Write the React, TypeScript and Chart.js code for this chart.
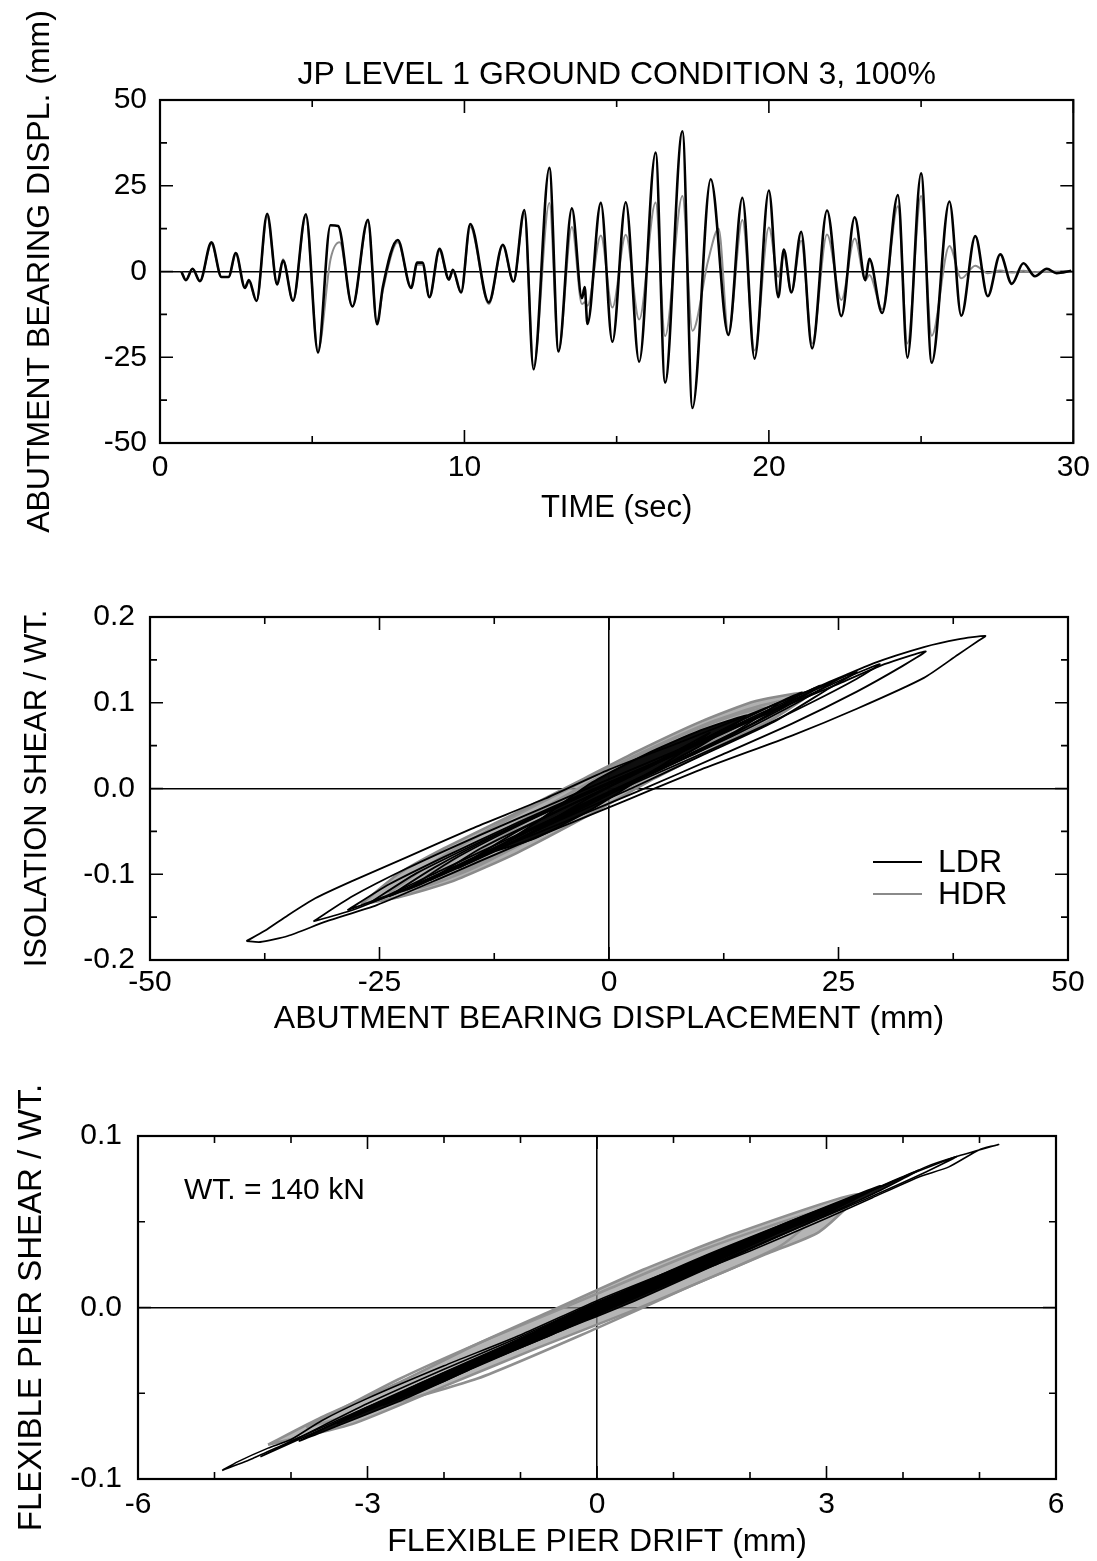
import React, { useEffect, useRef } from 'react';
import { Chart, registerables } from 'chart.js';

Chart.register(...registerables);

const FONT_FAMILY = '"Liberation Sans", Arial, Helvetica, sans-serif';

// ---------------- Panel 1 : time history ----------------
const panel1Title = 'JP LEVEL 1 GROUND CONDITION 3, 100%';
const timeLDR = [
  0.7, 0.85, 1.07, 1.31, 1.69, 2.02, 2.25, 2.49, 2.79, 2.92,
  3.17, 3.52, 3.85, 4.04, 4.37, 4.79, 5.19, 5.6, 5.85, 6.32,
  6.83, 7.13, 7.32, 7.81, 8.25, 8.45, 8.62, 8.85, 9.18, 9.49,
  9.62, 9.89, 10.19, 10.8, 11.26, 11.61, 11.97, 12.27, 12.79, 13.09,
  13.53, 13.86, 13.95, 14.04, 14.48, 14.86, 15.3, 15.74, 16.28, 16.59,
  17.16, 17.49, 18.09, 18.67, 19.13, 19.53, 20.0, 20.31, 20.49, 20.74,
  21.06, 21.42, 21.91, 22.38, 22.82, 23.17, 23.3, 23.72, 24.24, 24.55,
  25.0, 25.35, 25.93, 26.32, 26.78, 27.19, 27.6, 27.98, 28.36, 28.74,
  29.13, 29.45, 29.93,
];
const dispLDR = [
  0, -2.5, 0.8, -2.8, 8.5, -1.6, -1.6, 5.4, -4.8, -2.5,
  -8.6, 16.8, -3.8, 3.2, -8.5, 16.7, -23.6, 13.5, 13.3, -10.2,
  15.1, -15.4, -4.5, 9.2, -4.8, 2.6, 2.6, -7.5, 6.6, -2.3,
  0.5, -6.1, 13.8, -9.0, 7.8, -2.9, 17.9, -28.5, 30.2, -23.3,
  18.4, -7.8, -4.5, -15.3, 20.0, -20.5, 20.2, -26.3, 34.7, -32.4,
  40.9, -39.8, 26.9, -18.5, 21.5, -25.4, 23.6, -7.5, 6.4, -6.1,
  11.6, -22.4, 17.8, -13.0, 15.8, -2.5, 3.7, -12.1, 22.3, -25.1,
  28.6, -26.6, 20.4, -12.9, 10.3, -7.2, 5.0, -3.6, 2.4, -1.4,
  0.8, -0.5, 0.2,
];
const timeHDR = [
  0.7, 0.85, 1.07, 1.31, 1.69, 2.02, 2.25, 2.49, 2.79, 2.92,
  3.17, 3.52, 3.85, 4.04, 4.37, 4.79, 5.19, 5.6, 5.9, 6.32,
  6.83, 7.13, 7.32, 7.81, 8.25, 8.45, 8.62, 8.85, 9.18, 9.49,
  9.62, 9.89, 10.19, 10.8, 11.26, 11.61, 11.97, 12.27, 12.79, 13.09,
  13.53, 13.86, 13.95, 14.04, 14.48, 14.86, 15.3, 15.74, 16.28, 16.59,
  17.16, 17.49, 18.0, 18.35, 18.67, 19.13, 19.53, 20.0, 20.31, 20.49, 20.74,
  21.06, 21.42, 21.91, 22.38, 22.82, 23.17, 23.3, 23.72, 24.24, 24.55,
  25.0, 25.35, 25.93, 26.32, 26.78, 27.19, 27.6, 27.98, 28.36, 28.74,
  29.13, 29.45, 29.93,
];
const dispHDR = [
  0, -2.5, 0.8, -2.8, 8.0, -1.6, -1.6, 5.0, -4.5, -3.0,
  -8.6, 16.0, -3.8, 3.6, -8.5, 16.0, -23.0, 3.5, 8.5, -10.2,
  14.5, -15.0, -5.5, 8.5, -4.5, 2.0, 2.0, -7.5, 6.0, -2.5,
  0.0, -6.1, 13.0, -9.5, 7.5, -3.0, 17.0, -27.5, 20.0, -23.0,
  13.0, -9.5, -9.0, -10.0, 10.5, -10.5, 10.7, -14.0, 20.1, -18.8,
  22.0, -17.3, 3.0, 12.5, -18.0, 15.0, -23.0, 12.8, -1.5, 5.0, -6.0,
  9.0, -21.0, 10.8, -8.3, 9.6, -2.6, -1.0, -11.0, 19.0, -21.0,
  22.0, -18.7, 7.4, -2.0, 1.7, -0.5, 0.3, -0.3, 0.2, -0.2,
  0, 0, 0,
];
const p1XLabels = [0, 10, 20, 30];
const p1YLabels = [-50, -25, 0, 25, 50];

// ---------------- Panel 2 : isolation shear vs displacement ----------------
const seriesNames = ['LDR', 'HDR'];
const ldrLoops2: number[][][] = [
  [[-39.5, -0.178], [-37.5, -0.166], [-35, -0.148], [-32, -0.128], [-28, -0.108], [-22, -0.08], [-15, -0.047], [-7, -0.012], [0, 0.022], [8, 0.055], [15, 0.085], [22, 0.115], [28.8, 0.146], [34.3, 0.165], [38, 0.174], [41, 0.178],
   [40.2, 0.172], [38, 0.156], [34.3, 0.129], [27, 0.093], [20, 0.062], [10, 0.022], [0, -0.022], [-10, -0.066], [-18, -0.103], [-25.3, -0.136], [-30.8, -0.155], [-35, -0.172], [-38, -0.179], [-39.5, -0.178]],
  [[-32.2, -0.155], [-28, -0.126], [-22, -0.093], [-14, -0.054], [-6, -0.017], [2, 0.02], [10, 0.056], [18, 0.091], [25, 0.122], [30, 0.145], [34.5, 0.16],
   [32, 0.143], [27, 0.113], [20, 0.076], [12, 0.038], [3, -0.004], [-6, -0.044], [-15, -0.083], [-22, -0.116], [-28, -0.142], [-32.2, -0.155]],
  [[-28.5, -0.142], [-24, -0.112], [-18, -0.08], [-10, -0.04], [-2, -0.002], [6, 0.035], [14, 0.072], [21, 0.105], [26, 0.13], [29.5, 0.145],
   [27, 0.128], [22, 0.1], [15, 0.064], [7, 0.026], [-2, -0.016], [-10, -0.054], [-18, -0.094], [-24, -0.124], [-28.5, -0.142]],
  [[-26, -0.133], [-21, -0.099], [-14, -0.062], [-6, -0.022], [2, 0.016], [10, 0.054], [17, 0.088], [23, 0.118], [27, 0.136],
   [24, 0.117], [18, 0.078], [10, 0.038], [2, -0.002], [-6, -0.04], [-14, -0.079], [-21, -0.114], [-26, -0.133]],
  [[-24, -0.126], [-19, -0.092], [-12, -0.053], [-4, -0.014], [4, 0.024], [12, 0.062], [19, 0.097], [25, 0.128],
   [21, 0.103], [14, 0.064], [6, 0.024], [-2, -0.016], [-10, -0.056], [-17, -0.092], [-21, -0.112], [-24, -0.126]],
  [[-22, -0.118], [-17, -0.083], [-10, -0.044], [-2, -0.004], [6, 0.035], [13, 0.07], [19, 0.1], [23, 0.12],
   [19, 0.094], [12, 0.056], [4, 0.016], [-4, -0.024], [-11, -0.062], [-17, -0.094], [-22, -0.118]],
  [[-19.5, -0.107], [-14, -0.07], [-6, -0.028], [2, 0.012], [9, 0.05], [16, 0.088], [21, 0.112],
   [17, 0.084], [10, 0.044], [2, 0.004], [-6, -0.038], [-13, -0.076], [-19.5, -0.107]],
  [[-16.5, -0.093], [-10, -0.05], [-2, -0.008], [6, 0.034], [13, 0.072], [18.5, 0.1],
   [14, 0.068], [6, 0.026], [-2, -0.016], [-10, -0.06], [-16.5, -0.093]],
  [[-13, -0.075], [-8, -0.04], [-2, 0.006], [4, 0.04], [10, 0.068], [15, 0.085],
   [10, 0.05], [4, 0.015], [-2, -0.025], [-8, -0.058], [-13, -0.075]],
  [[-9, -0.055], [-2, -0.01], [5, 0.03], [11, 0.065], [5, 0.022], [-2, -0.018], [-9, -0.055]],
];
const hdrLoops2: number[][][] = [
  [[-27, -0.135], [-23, -0.1], [-18, -0.07], [-10, -0.028], [-3, 0.01], [3, 0.043], [10, 0.078], [16, 0.102], [22, 0.112],
   [18, 0.082], [12, 0.05], [5, 0.012], [-2, -0.03], [-10, -0.075], [-17, -0.108], [-23, -0.127], [-27, -0.135]],
  [[-24, -0.122], [-19, -0.085], [-12, -0.042], [-4, 0.002], [4, 0.044], [11, 0.077], [16, 0.095], [20, 0.104],
   [15, 0.072], [8, 0.036], [0, -0.01], [-8, -0.056], [-15, -0.094], [-20, -0.114], [-24, -0.122]],
  [[-21, -0.11], [-15, -0.07], [-8, -0.028], [0, 0.02], [7, 0.058], [13, 0.083], [17, 0.094],
   [12, 0.06], [5, 0.022], [-3, -0.024], [-10, -0.066], [-16, -0.096], [-21, -0.11]],
  [[-17, -0.092], [-10, -0.045], [-2, 0.005], [6, 0.05], [14, 0.08], [9, 0.042], [1, -0.005], [-7, -0.05], [-13, -0.08], [-17, -0.092]],
];
const p2XLabels = [-50, -25, 0, 25, 50];
const p2YLabels = [-0.2, -0.1, 0, 0.1, 0.2];

// ---------------- Panel 3 : flexible pier ----------------
const ldrLoops3: number[][][] = [
  [[-4.9, -0.095], [-4.7, -0.09], [-4.3, -0.082], [-4.0, -0.077], [-3.6, -0.066], [-3.0, -0.053], [-2, -0.034], [-1, -0.016], [0, 0.004], [1, 0.022], [2, 0.04], [3, 0.058], [3.8, 0.072], [4.3, 0.082], [4.7, 0.088], [5.25, 0.095],
   [5.0, 0.092], [4.6, 0.082], [4.2, 0.076], [3.6, 0.064], [3.0, 0.052], [2, 0.033], [1, 0.015], [0, -0.004], [-1, -0.022], [-2, -0.04], [-3, -0.058], [-3.6, -0.07], [-4.1, -0.08], [-4.5, -0.088], [-4.9, -0.095]],
  [[-4.4, -0.087], [-3.9, -0.076], [-3, -0.056], [-2, -0.036], [-1, -0.017], [0, 0.003], [1, 0.021], [2, 0.039], [3, 0.057], [4, 0.076], [4.7, 0.088],
   [4.3, 0.079], [3.5, 0.063], [2.5, 0.044], [1.5, 0.025], [0.5, 0.006], [-0.5, -0.013], [-1.5, -0.031], [-2.5, -0.05], [-3.5, -0.069], [-4.4, -0.087]],
  [[-3.9, -0.078], [-3, -0.058], [-2, -0.038], [-1, -0.019], [0, 0.001], [1, 0.02], [2, 0.038], [3, 0.057], [4.2, 0.08],
   [3.6, 0.066], [2.6, 0.046], [1.6, 0.026], [0.5, 0.004], [-0.6, -0.016], [-1.6, -0.035], [-2.6, -0.055], [-3.9, -0.078]],
  [[-3.4, -0.068], [-2.4, -0.046], [-1.2, -0.022], [0, 0.002], [1.2, 0.025], [2.4, 0.048], [3.7, 0.071],
   [3, 0.055], [1.8, 0.033], [0.6, 0.008], [-0.6, -0.016], [-1.8, -0.038], [-3.4, -0.068]],
  [[-2.8, -0.057], [-1.4, -0.028], [0, 0.002], [1.4, 0.03], [3.1, 0.06], [2.2, 0.04], [0.8, 0.012], [-0.6, -0.014], [-2, -0.043], [-2.8, -0.057]],
  [[-2, -0.04], [0, 0.003], [2.3, 0.045], [1, 0.016], [-1, -0.022], [-2, -0.04]],
];
const hdrLoops3: number[][][] = [
  [[-4.3, -0.08], [-3.6, -0.064], [-2.6, -0.044], [-1.6, -0.022], [-0.6, -0.002], [0.6, 0.022], [1.8, 0.043], [3.4, 0.066],
   [2.9, 0.044], [2.2, 0.031], [1.2, 0.012], [0.4, -0.003], [-0.8, -0.024], [-2, -0.046], [-3.2, -0.068], [-4.3, -0.08]],
  [[-3.8, -0.07], [-2.6, -0.042], [-1.4, -0.018], [0, 0.008], [1.4, 0.034], [2.9, 0.056], [2.4, 0.036], [1.2, 0.012], [0, -0.012], [-1.6, -0.042], [-3.8, -0.07]],
];
const p3XLabels = [-6, -3, 0, 3, 6];
const p3YLabels = [-0.1, 0, 0.1];
const p3Note = 'WT. = 140 kN';
const p3NoteAt = { x: -5.4, y: 0.068 };

// ---------------- helpers ----------------
const toPts = (xs: number[], ys: number[]) => xs.map((x, i) => ({ x, y: ys[i] }));
const loopPts = (loop: number[][]) => loop.map(([x, y]) => ({ x, y }));

function tickCb(labels: number[], digits: number) {
  return (value: number | string) => {
    const v = Number(value);
    const hit = labels.find((l) => Math.abs(l - v) < 1e-6);
    return hit === undefined ? '' : hit.toFixed(digits);
  };
}

function makeAxis(o: any) {
  return {
    type: 'linear',
    min: o.min,
    max: o.max,
    ticks: {
      stepSize: o.step,
      autoSkip: false,
      maxRotation: 0,
      minRotation: 0,
      padding: o.tickPad,
      color: '#000',
      font: { size: 30, family: FONT_FAMILY },
      callback: tickCb(o.labels, o.digits),
    },
    grid: {
      drawTicks: false,
      lineWidth: 1.6,
      color: (c: any) => (o.zero && c.tick && Math.abs(c.tick.value) < 1e-9 ? '#000' : 'rgba(0,0,0,0)'),
    },
    border: { display: false },
    title: {
      display: true,
      text: o.title,
      color: '#000',
      font: { size: o.titleSize, family: FONT_FAMILY },
      padding: o.titlePad,
    },
    afterFit: (s: any) => {
      if (o.horizontal) s.height = o.size;
      else s.width = o.size;
    },
  };
}

const frameTicksPlugin = {
  id: 'frameTicks',
  afterDatasetsDraw(chart: any, _args: any, opts: any) {
    const { ctx, chartArea: a, scales } = chart;
    const major = opts.major || 13;
    const minor = opts.minor || 7;
    ctx.save();
    ctx.strokeStyle = '#000';
    ctx.lineWidth = 1.6;
    ctx.beginPath();
    for (const t of scales.x.ticks) {
      const p = scales.x.getPixelForValue(t.value);
      const len = t.label === '' ? minor : major;
      ctx.moveTo(p, a.bottom);
      ctx.lineTo(p, a.bottom - len);
      ctx.moveTo(p, a.top);
      ctx.lineTo(p, a.top + len);
    }
    for (const t of scales.y.ticks) {
      const p = scales.y.getPixelForValue(t.value);
      const len = t.label === '' ? minor : major;
      ctx.moveTo(a.left, p);
      ctx.lineTo(a.left + len, p);
      ctx.moveTo(a.right, p);
      ctx.lineTo(a.right - len, p);
    }
    ctx.stroke();
    ctx.lineWidth = 2.2;
    ctx.strokeRect(a.left, a.top, a.right - a.left, a.bottom - a.top);
    ctx.restore();
  },
};

const insideLegendPlugin = {
  id: 'insideLegend',
  afterDraw(chart: any, _args: any, opts: any) {
    const { ctx, chartArea: a } = chart;
    const seen: string[] = [];
    const items: any[] = [];
    chart.data.datasets.forEach((ds: any) => {
      if (ds.label && seen.indexOf(ds.label) < 0) {
        seen.push(ds.label);
        items.push(ds);
      }
    });
    ctx.save();
    ctx.font = `32px ${FONT_FAMILY}`;
    ctx.fillStyle = '#000';
    ctx.textBaseline = 'middle';
    ctx.textAlign = 'left';
    items.forEach((ds, i) => {
      const y = a.top + opts.top + i * opts.gap;
      ctx.strokeStyle = ds.borderColor;
      ctx.lineWidth = 1.8;
      ctx.beginPath();
      ctx.moveTo(a.right - opts.lineStart, y);
      ctx.lineTo(a.right - opts.lineEnd, y);
      ctx.stroke();
      ctx.fillText(ds.label, a.right - opts.textStart, y + 1);
    });
    ctx.restore();
  },
};

const noteTextPlugin = {
  id: 'noteText',
  afterDraw(chart: any, _args: any, opts: any) {
    const { ctx, scales } = chart;
    ctx.save();
    ctx.font = `30px ${FONT_FAMILY}`;
    ctx.fillStyle = '#000';
    ctx.textBaseline = 'middle';
    ctx.textAlign = 'left';
    ctx.fillText(opts.text, scales.x.getPixelForValue(opts.x), scales.y.getPixelForValue(opts.y));
    ctx.restore();
  },
};

const lineBase = { pointRadius: 0, pointHoverRadius: 0, fill: false };

function panel1Config(): any {
  return {
    type: 'line',
    data: {
      datasets: [
        { ...lineBase, label: seriesNames[0], data: toPts(timeLDR, dispLDR), borderColor: '#000', borderWidth: 2.6, cubicInterpolationMode: 'monotone' },
        { ...lineBase, label: seriesNames[1], data: toPts(timeHDR, dispHDR), borderColor: '#8c8c8c', borderWidth: 2, cubicInterpolationMode: 'monotone' },
      ],
    },
    options: {
      responsive: false,
      animation: false,
      layout: { padding: { left: 0, right: 22, top: 0, bottom: 0 } },
      plugins: {
        legend: { display: false },
        tooltip: { enabled: false },
        title: {
          display: true,
          text: panel1Title,
          fullSize: false,
          color: '#000',
          font: { size: 32, family: FONT_FAMILY, weight: 'normal' },
          padding: { top: 56, bottom: 5.6 },
        },
        frameTicks: { major: 13, minor: 7 },
      },
      scales: {
        x: makeAxis({ min: 0, max: 30, step: 5, labels: p1XLabels, digits: 0, title: 'TIME (sec)', titleSize: 31, titlePad: { top: 0, bottom: 18 }, tickPad: 7, zero: false, size: 102, horizontal: true }),
        y: makeAxis({ min: -50, max: 50, step: 12.5, labels: p1YLabels, digits: 0, title: 'ABUTMENT BEARING DISPL. (mm)', titleSize: 32, titlePad: { top: 21, bottom: 0 }, tickPad: 13, zero: true, size: 160, horizontal: false }),
      },
    },
    plugins: [frameTicksPlugin],
  };
}

function panel2Config(): any {
  const ldr = ldrLoops2.map((l, i) => ({
    ...lineBase,
    label: seriesNames[0],
    data: loopPts(l),
    borderColor: '#000',
    borderWidth: 1.8,
    tension: 0.2,
    fill: i === 8 ? 'shape' : false,
    backgroundColor: 'rgba(0,0,0,0.92)',
  }));
  const hdr = hdrLoops2.map((l, i) => ({
    ...lineBase,
    label: seriesNames[1],
    data: loopPts(l),
    borderColor: '#8a8a8a',
    borderWidth: 2.6,
    tension: 0.2,
    fill: i === 0 ? 'shape' : false,
    backgroundColor: 'rgba(150,150,150,0.75)',
  }));
  return {
    type: 'line',
    data: { datasets: [...ldr, ...hdr] },
    options: {
      responsive: false,
      animation: false,
      layout: { padding: { left: 0, right: 29, top: 57, bottom: 0 } },
      plugins: {
        legend: { display: false },
        tooltip: { enabled: false },
        frameTicks: { major: 13, minor: 7 },
        insideLegend: { top: 245, gap: 32, lineStart: 195, lineEnd: 146, textStart: 130 },
      },
      scales: {
        x: makeAxis({ min: -50, max: 50, step: 12.5, labels: p2XLabels, digits: 0, title: 'ABUTMENT BEARING DISPLACEMENT (mm)', titleSize: 32, titlePad: { top: 0, bottom: 12 }, tickPad: 5, zero: true, size: 90, horizontal: true }),
        y: makeAxis({ min: -0.2, max: 0.2, step: 0.05, labels: p2YLabels, digits: 1, title: 'ISOLATION SHEAR / WT.', titleSize: 31, titlePad: { top: 19, bottom: 0 }, tickPad: 15, zero: true, size: 150, horizontal: false }),
      },
    },
    plugins: [frameTicksPlugin, insideLegendPlugin],
  };
}

function panel3Config(): any {
  const ldr = ldrLoops3.map((l, i) => ({
    ...lineBase,
    label: seriesNames[0],
    data: loopPts(l),
    borderColor: '#000',
    borderWidth: 1.6,
    tension: 0.2,
    fill: i >= 2 ? 'shape' : false,
    backgroundColor: 'rgba(0,0,0,0.9)',
  }));
  const hdr = hdrLoops3.map((l, i) => ({
    ...lineBase,
    label: seriesNames[1],
    data: loopPts(l),
    borderColor: '#8f8f8f',
    borderWidth: 2.6,
    tension: 0.2,
    fill: i === 0 ? 'shape' : false,
    backgroundColor: 'rgba(150,150,150,0.7)',
  }));
  return {
    type: 'line',
    data: { datasets: [...ldr, ...hdr] },
    options: {
      responsive: false,
      animation: false,
      layout: { padding: { left: 0, right: 41, top: 56, bottom: 0 } },
      plugins: {
        legend: { display: false },
        tooltip: { enabled: false },
        frameTicks: { major: 13, minor: 7 },
        noteText: { text: p3Note, x: p3NoteAt.x, y: p3NoteAt.y },
      },
      scales: {
        x: makeAxis({ min: -6, max: 6, step: 1, labels: p3XLabels, digits: 0, title: 'FLEXIBLE PIER DRIFT (mm)', titleSize: 32, titlePad: { top: 0, bottom: 0 }, tickPad: 8, zero: true, size: 82, horizontal: true }),
        y: makeAxis({ min: -0.1, max: 0.1, step: 0.05, labels: p3YLabels, digits: 1, title: 'FLEXIBLE PIER SHEAR / WT.', titleSize: 33, titlePad: { top: 12, bottom: 0 }, tickPad: 16, zero: true, size: 138, horizontal: false }),
      },
    },
    plugins: [frameTicksPlugin, noteTextPlugin],
  };
}

function ChartCanvas({ top, height, makeConfig }: { top: number; height: number; makeConfig: () => any }) {
  const ref = useRef<HTMLCanvasElement | null>(null);
  useEffect(() => {
    if (!ref.current) return;
    const chart = new Chart(ref.current, makeConfig());
    return () => chart.destroy();
  }, []);
  return (
    <canvas
      ref={ref}
      width={1097}
      height={height}
      style={{ position: 'absolute', left: 0, top, width: 1097, height }}
    />
  );
}

export default function App() {
  return (
    <div style={{ position: 'absolute', left: 0, top: 0, width: 1097, height: 1561, background: '#fff', overflow: 'hidden' }}>
      <ChartCanvas top={0} height={545} makeConfig={panel1Config} />
      <ChartCanvas top={560} height={490} makeConfig={panel2Config} />
      <ChartCanvas top={1080} height={481} makeConfig={panel3Config} />
    </div>
  );
}
